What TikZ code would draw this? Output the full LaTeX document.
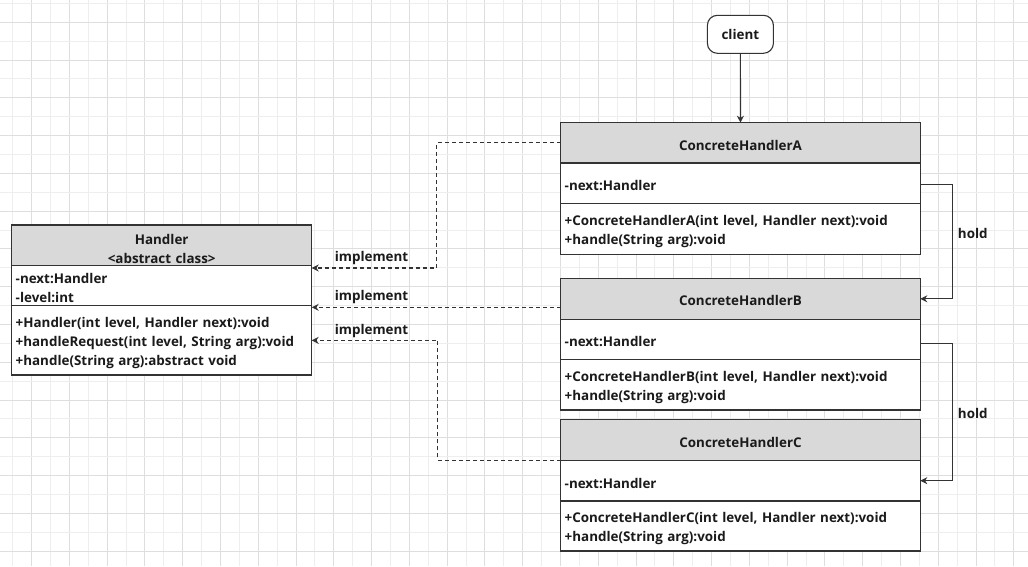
\documentclass[tikz,border=0pt]{standalone}
\usepackage{fontspec}
\setmainfont{Open Sans}
\usetikzlibrary{arrows.meta}
\definecolor{gridminor}{HTML}{EEEEEE}
\definecolor{gridmajor}{HTML}{DEDEDE}
\definecolor{headgray}{HTML}{D9D9D9}
\definecolor{linegray}{HTML}{333333}
\definecolor{ink}{HTML}{1A1A1A}
\begin{document}
\begin{tikzpicture}[x=1pt, y=-1pt, font=\fontsize{13.4}{19}\selectfont\bfseries, text=ink,
    head/.style={draw=linegray, fill=headgray, line width=1.1pt, outer sep=0pt, inner xsep=4pt, inner ysep=0pt, align=center, execute at begin node={\rule{0pt}{14.5pt}}},
    compart/.style={draw=linegray, fill=white, line width=1.1pt, outer sep=0pt, inner xsep=4pt, inner ysep=0pt, align=left, execute at begin node={\rule{0pt}{15pt}}},
    handlerw/.style={minimum width=300pt, text width=292pt},
    concretew/.style={minimum width=359.6pt, text width=351.6pt},
    link/.style={draw=linegray, line width=1.1pt, -{Stealth[length=7pt, width=7pt]}},
    impl/.style={link, dash pattern=on 4pt off 3pt},
    lbl/.style={inner sep=0pt}]
        \useasboundingbox (0, 0) rectangle (1028, 566);
        \fill[white](0, 0) rectangle (1028, 566);
        %%grid
        \foreach \gx in {12.67, 50.45, ..., 1028}
            \draw[gridminor, line width=1pt](\gx, 0) to (\gx, 566);
        \foreach \gx in {31.56, 69.34, ..., 1028}
            \draw[gridmajor, line width=1pt](\gx, 0) to (\gx, 566);
        \foreach \gy in {3.33, 41.11, ..., 566}
            \draw[gridminor, line width=1pt](0, \gy) to (1028, \gy);
        \foreach \gy in {22.22, 60.00, ..., 566}
            \draw[gridmajor, line width=1pt](0, \gy) to (1028, \gy);

        %%Handler
        \node[head, handlerw, minimum height=40.7pt, anchor=north west] (handlerHead) at(11.7, 225){\rule{0pt}{18pt}Handler\\<abstract class>};
        \node[compart, handlerw, minimum height=40pt, anchor=north] (handlerAttr) at(handlerHead.south){-next:Handler\\-level:int};
        \node[compart, handlerw, minimum height=69.3pt, anchor=north] (handlerOps) at(handlerAttr.south){+Handler(int level, Handler next):void\\+handleRequest(int level, String arg):void\\+handle(String arg):abstract void};

        %%client
        \node[draw=linegray, fill=white, line width=1.1pt, outer sep=0pt, rounded corners=10pt, minimum width=66pt, minimum height=38pt] (client) at(740.4, 34.3){client};

        %%A
        \node[head, concretew, minimum height=40.3pt, anchor=north west] (chAHead) at(560.7, 122.7){ConcreteHandlerA};
        \node[compart, concretew, minimum height=40.6pt, anchor=north] (chAAttr) at(chAHead.south){-next:Handler};
        \node[compart, concretew, minimum height=50.7pt, anchor=north] (chAOps) at(chAAttr.south){+ConcreteHandlerA(int level, Handler next):void\\+handle(String arg):void};
        %%B
        \node[head, concretew, minimum height=41pt, anchor=north west] (chBHead) at(560.7, 278.3){ConcreteHandlerB};
        \node[compart, concretew, minimum height=40pt, anchor=north] (chBAttr) at(chBHead.south){-next:Handler};
        \node[compart, concretew, minimum height=50.7pt, anchor=north] (chBOps) at(chBAttr.south){+ConcreteHandlerB(int level, Handler next):void\\+handle(String arg):void};
        %%C
        \node[head, concretew, minimum height=40.6pt, anchor=north west] (chCHead) at(560.7, 419.7){ConcreteHandlerC};
        \node[compart, concretew, minimum height=40.7pt, anchor=north] (chCAttr) at(chCHead.south){-next:Handler};
        \node[compart, concretew, minimum height=50pt, anchor=north] (chCOps) at(chCAttr.south){+ConcreteHandlerC(int level, Handler next):void\\+handle(String arg):void};

        %%links
        \draw[link](client) to (chAHead);
        \draw[impl](chAHead.west) -- ++(-124, 0) |- ([yshift=-2.3pt]handlerAttr.north east);
        \draw[impl]([yshift=-8.5pt]chBHead.west) -- ([yshift=-8.5pt]chBHead.west -| handlerOps.east);
        \draw[impl](chCHead.south west) -- ++(-123, 0) |- (handlerOps.east);
            \node[lbl] (implA) at(371.5, 257.7){implement};
            \node[lbl] (implB) at(371.5, 297.3){implement};
            \node[lbl] (implC) at(371.5, 330.7){implement};
        \draw[link]([yshift=-1pt]chAAttr.east) -- ++(32.4, 0) |- (chBHead.east);
        \draw[link]([yshift=-4pt]chBAttr.east) -- ++(32.4, 0) |- (chCAttr.east);
            \node[lbl] (holdAB) at(972.8, 233){hold};
            \node[lbl] (holdBC) at(972.8, 413.3){hold};
\end{tikzpicture}
\end{document}
